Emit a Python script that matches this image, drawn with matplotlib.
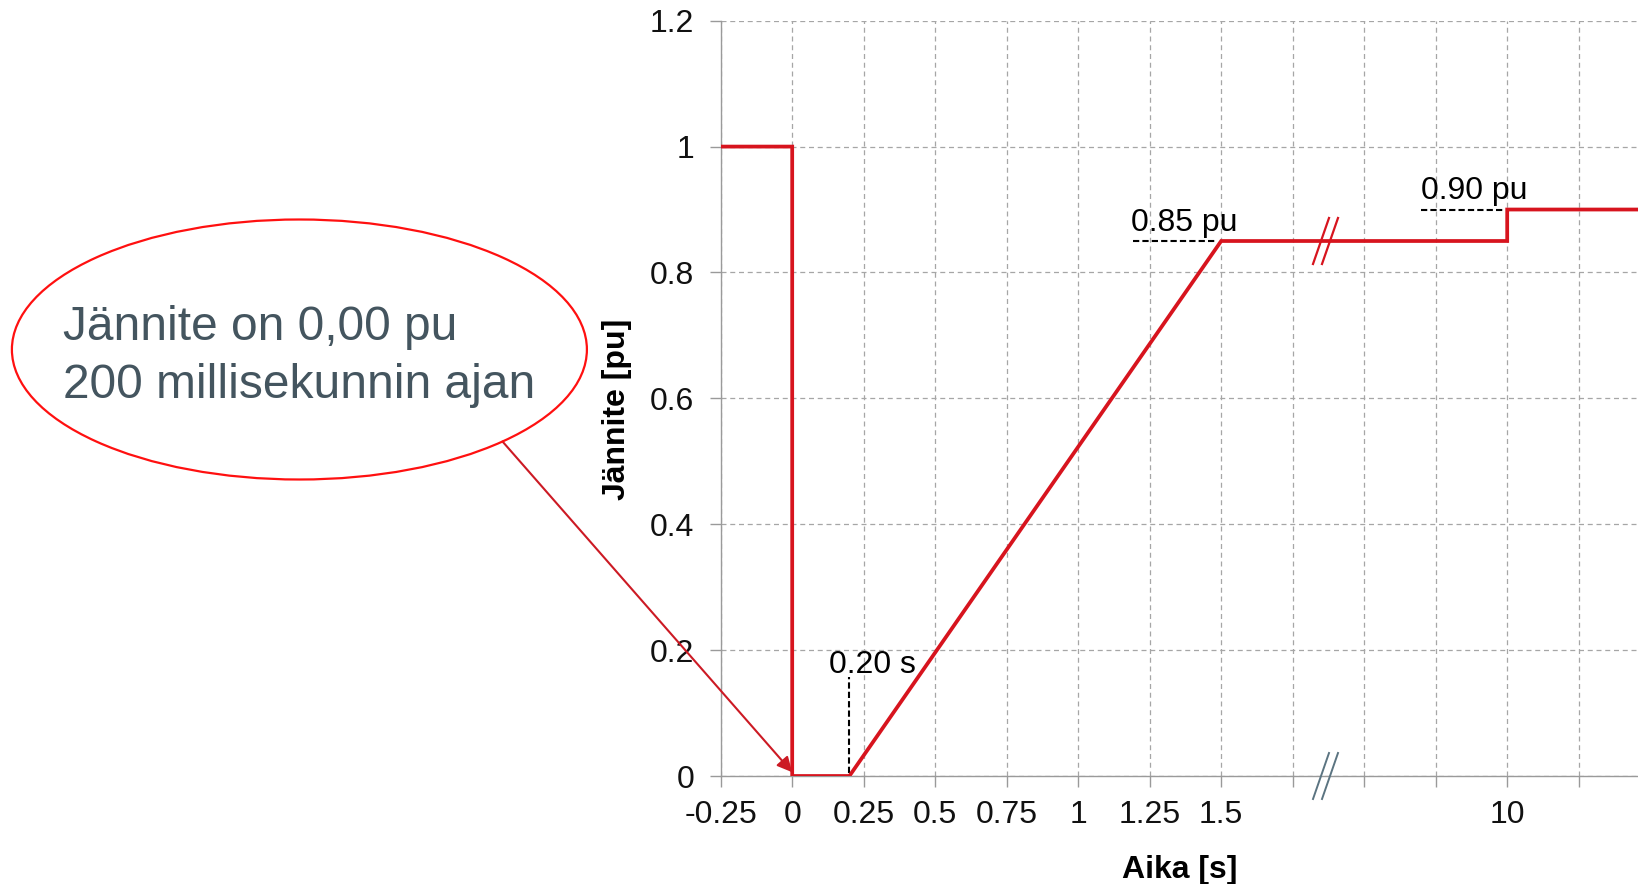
import numpy as np
import matplotlib
matplotlib.use("Agg")
import matplotlib.pyplot as plt
from matplotlib.patches import Ellipse
from matplotlib.lines import Line2D
from matplotlib.transforms import IdentityTransform

plt.rcParams['font.family'] = ['Liberation Sans', 'DejaVu Sans']

# Voltage profile (time in seconds, voltage in pu)
time_s = [-0.25, 0.0, 0.0, 0.2, 1.5, 10.0, 10.0, 20.0]
voltage_pu = [1.0, 1.0, 0.0, 0.0, 0.85, 0.85, 0.90, 0.90]

x_major = [-0.25, 0, 0.25, 0.5, 0.75, 1.0, 1.25, 1.5, 10]
x_labels = ["-0.25", "0", "0.25", "0.5", "0.75", "1", "1.25", "1.5", "10"]
x_minor = [3.625, 5.75, 7.875, 12.5]
y_ticks = [0, 0.2, 0.4, 0.6, 0.8, 1.0, 1.2]
y_labels = ["0", "0.2", "0.4", "0.6", "0.8", "1", "1.2"]

break_t = 4.6
callout_lines = ["Jännite on 0,00 pu", "200 millisekunnin ajan"]

# Broken time axis: linear up to 1.5 s, compressed between 1.5 s and 10 s
t_knots = np.array([-10.0, 1.5, 10.0, 100.0])
p_knots = np.array([-10.0, 1.5, 2.5, 11.5])


def fwd(t):
    return np.interp(t, t_knots, p_knots)


def inv(p):
    return np.interp(p, p_knots, t_knots)


W, H, DPI = 1638, 884, 100
FS = 23
fig = plt.figure(figsize=(W / DPI, H / DPI), dpi=DPI)
ax = fig.add_axes([720.7 / W, 108 / H, (W - 720.7) / W, 755.3 / H])
ax.set_xscale('function', functions=(fwd, inv))
ax.set_xlim(-0.25, inv(-0.25 + (W - 720.7) / 71.5 * 0.25))
ax.set_ylim(0, 1.2)

red = '#d7141e'
grey = '#a6a6a6'

ax.plot(time_s, voltage_pu, color=red, lw=2.7, solid_joinstyle='miter', zorder=4, clip_on=True)

ax.set_xticks(x_major)
ax.set_xticklabels(x_labels)
ax.set_xticks(x_minor, minor=True)
ax.set_yticks(y_ticks)
ax.set_yticklabels(y_labels)

ax.grid(True, which='both', axis='x', color=grey, ls=(0, (4, 3)), lw=0.9)
ax.grid(True, which='major', axis='y', color=grey, ls=(0, (4, 3)), lw=0.9)
ax.set_axisbelow(True)

for s in ('top', 'right'):
    ax.spines[s].set_visible(False)
for s in ('left', 'bottom'):
    ax.spines[s].set_color('#9a9a9a')
    ax.spines[s].set_linewidth(1.0)

ax.tick_params(axis='both', which='both', direction='out', length=8, width=1.0,
               color='#9a9a9a', labelsize=FS, labelcolor='#111111')
ax.tick_params(axis='x', which='both', pad=9)
ax.tick_params(axis='y', pad=11)

ax.set_xlabel('Aika [s]', fontsize=FS, fontweight='bold', labelpad=18)
ax.set_ylabel('Jännite [pu]', fontsize=FS, fontweight='bold')
ax.yaxis.set_label_coords(-0.0967, 0.485)

# Reference markers for the key points
ax.plot([0.2, 0.2], [0.005, 0.157], color='black', ls=(0, (3, 1.5)), lw=1.5, zorder=3)
ax.text(0.128, 0.163, '0.20 s', fontsize=FS, ha='left', va='baseline')

ax.plot([1.19, 1.48], [0.85, 0.85], color='black', ls=(0, (3, 1.5)), lw=1.5, zorder=3)
ax.text(1.185, 0.866, '0.85 pu', fontsize=FS, ha='left', va='baseline')

x90a = inv(fwd(10.0) - 0.3)
x90b = inv(fwd(10.0) - 0.015)
ax.plot([x90a, x90b], [0.90, 0.90], color='black', ls=(0, (3, 1.5)), lw=1.5, zorder=3)
ax.text(x90a, 0.916, '0.90 pu', fontsize=FS, ha='left', va='baseline')

fig.canvas.draw()


def slashes(x, y, color, lw):
    px, py = ax.transData.transform((x, y))
    for off in (-4.5, 4.5):
        fig.add_artist(Line2D([px + off - 8, px + off + 8], [py - 23, py + 23],
                              transform=IdentityTransform(), color=color, lw=lw,
                              zorder=6))


slashes(break_t, 0.85, red, 1.6)
slashes(break_t, 0.0, '#5b7481', 1.4)

# Callout bubble
ell = Ellipse((299.4, H - 349.5), 575, 260, transform=IdentityTransform(),
              facecolor='none', edgecolor='#ff1010', lw=1.6)
fig.add_artist(ell)
fig.text(63 / W, (H - 340) / H, callout_lines[0], fontsize=34.5, color='#44555f',
         ha='left', va='baseline')
fig.text(63 / W, (H - 398) / H, callout_lines[1], fontsize=34.5, color='#44555f',
         ha='left', va='baseline')

ax.annotate('', xy=(0.0, 0.006), xycoords='data',
            xytext=(502.5, H - 441.5), textcoords='figure pixels',
            arrowprops=dict(arrowstyle='-|>,head_length=0.9,head_width=0.45',
                            color='#cc1a24', lw=1.5, shrinkA=0, shrinkB=0),
            annotation_clip=False, zorder=5)

fig.savefig('out.png', dpi=DPI)
